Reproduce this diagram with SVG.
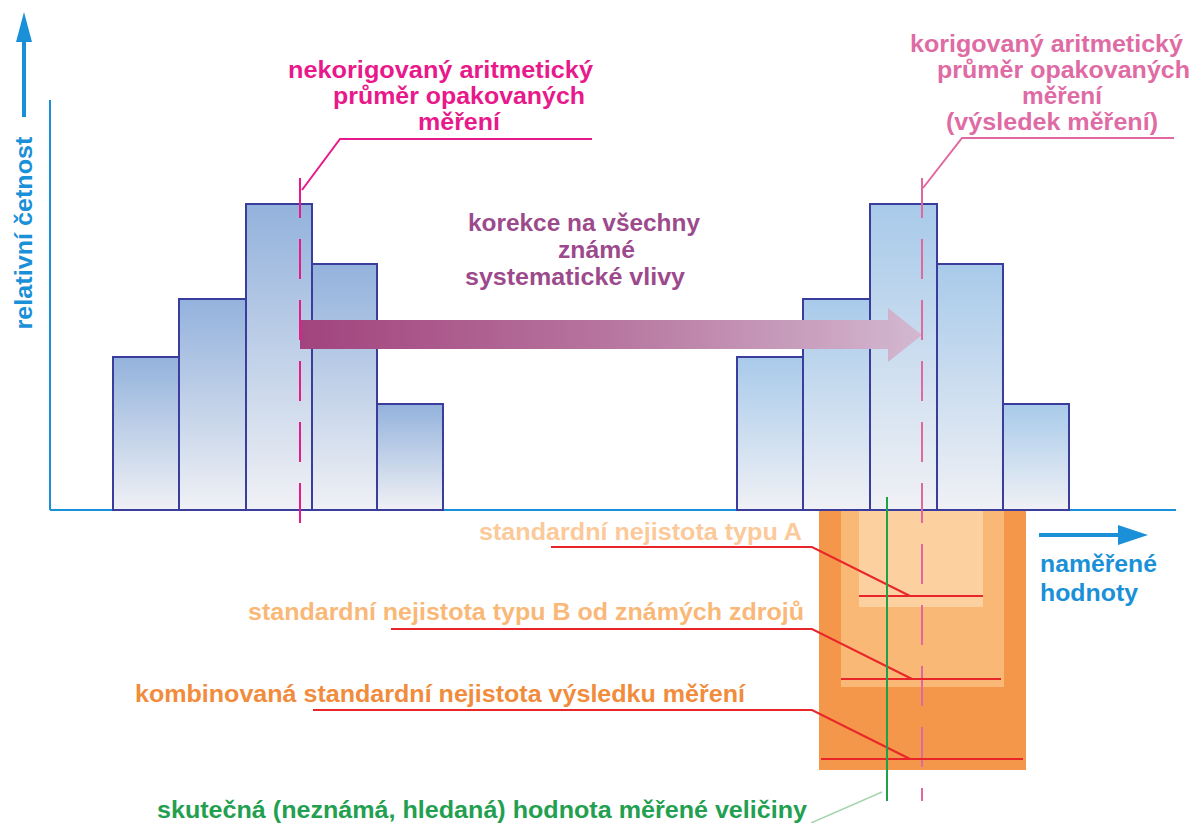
<svg xmlns="http://www.w3.org/2000/svg" width="1194" height="823" viewBox="0 0 1194 823">
<defs>
<linearGradient id="barL" x1="0" y1="0" x2="0" y2="1"><stop offset="0" stop-color="#93b2dc"/><stop offset="1" stop-color="#f0f1f5"/></linearGradient>
<linearGradient id="barR" x1="0" y1="0" x2="0" y2="1"><stop offset="0" stop-color="#a8caea"/><stop offset="1" stop-color="#f0f1f5"/></linearGradient>
<linearGradient id="bigArrow" gradientUnits="userSpaceOnUse" x1="300" y1="0" x2="922" y2="0"><stop offset="0" stop-color="#a2437e"/><stop offset="0.5" stop-color="#b7769f"/><stop offset="1" stop-color="#d3b8d0"/></linearGradient>
<style>
text{font-family:"Liberation Sans",Arial,sans-serif;font-weight:bold;font-size:23px}
.bar{stroke:#3b3d9c;stroke-width:2}
.l{fill:url(#barL)}
.r{fill:url(#barR)}
.red{fill:none;stroke:#e8262a;stroke-width:2}
.blue{fill:#1a90d8}
</style>
</defs>

<g id="axes">
<line x1="50" y1="100" x2="50" y2="510" stroke="#1a90d8" stroke-width="2"/>
<line x1="50" y1="510" x2="1176" y2="510" stroke="#1a90d8" stroke-width="2"/>
<rect x="22" y="38" width="4" height="79" class="blue"/>
<polygon points="24,12 16,42 32,42" class="blue"/>
<text class="blue" transform="translate(32,233) rotate(-90)" text-anchor="middle" textLength="193" lengthAdjust="spacingAndGlyphs">relativní četnost</text>
<rect x="1039" y="533" width="82" height="4" class="blue"/>
<polygon points="1148,535 1118,525 1118,545" class="blue"/>
<text class="blue" x="1040" y="572" textLength="117" lengthAdjust="spacingAndGlyphs">naměřené</text>
<text class="blue" x="1040" y="601" textLength="98" lengthAdjust="spacingAndGlyphs">hodnoty</text>
</g>

<g id="uncertainty-boxes">
<rect x="819" y="511" width="207" height="259" fill="#f4974a"/>
<rect x="841" y="511" width="163" height="176" fill="#f9b875"/>
<rect x="859" y="511" width="124" height="96" fill="#fcd09f"/>
</g>

<g id="histogram-uncorrected">
<rect class="bar l" x="113" y="357" width="66" height="153"/>
<rect class="bar l" x="179" y="299" width="67" height="211"/>
<rect class="bar l" x="246" y="204" width="66" height="306"/>
<rect class="bar l" x="312" y="264" width="65" height="246"/>
<rect class="bar l" x="377" y="404" width="66" height="106"/>
</g>

<g id="histogram-corrected">
<rect class="bar r" x="737" y="357" width="66" height="153"/>
<rect class="bar r" x="803" y="299" width="67" height="211"/>
<rect class="bar r" x="870" y="204" width="67" height="306"/>
<rect class="bar r" x="937" y="264" width="66" height="246"/>
<rect class="bar r" x="1003" y="404" width="66" height="106"/>
</g>

<g id="correction-arrow">
<polygon points="300,320 888,320 888,308 922,335 888,362 888,349 300,349" fill="url(#bigArrow)"/>
<text x="468" y="231" fill="#9c4a8c" textLength="232" lengthAdjust="spacingAndGlyphs">korekce na všechny</text>
<text x="558" y="258" fill="#9c4a8c" textLength="77" lengthAdjust="spacingAndGlyphs">známé</text>
<text x="465" y="285" fill="#9c4a8c" textLength="220" lengthAdjust="spacingAndGlyphs">systematické vlivy</text>
</g>

<g id="connectors">
<line x1="300" y1="178" x2="300" y2="523" stroke="#e8198b" stroke-width="2" stroke-dasharray="40 21"/>
<polyline points="592,139 340,139 302,190" fill="none" stroke="#e8198b" stroke-width="2"/>
<line x1="922" y1="178" x2="922" y2="801" stroke="#e0689f" stroke-width="2" stroke-dasharray="40 21"/>
<polyline points="1174,138 962,138 923,188" fill="none" stroke="#e0689f" stroke-width="2"/>
<line x1="859" y1="596" x2="983" y2="596" class="red"/>
<polyline points="551,547 812,547 910,596" class="red"/>
<line x1="841" y1="679" x2="1001" y2="679" class="red"/>
<polyline points="391,629 812,629 912,679" class="red"/>
<line x1="821" y1="759" x2="1023" y2="759" class="red" stroke-width="2.5"/>
<polyline points="313,710 812,710 910,759" class="red"/>
<line x1="887" y1="497" x2="887" y2="801" stroke="#1fa04a" stroke-width="2"/>
<line x1="882" y1="792" x2="811" y2="823" stroke="#a8d4b0" stroke-width="1.5"/>
</g>

<g id="label-uncorrected">
<text x="288" y="78" fill="#e8198b" textLength="305" lengthAdjust="spacingAndGlyphs">nekorigovaný aritmetický</text>
<text x="333" y="104" fill="#e8198b" textLength="252" lengthAdjust="spacingAndGlyphs">průměr opakovaných</text>
<text x="418" y="130" fill="#e8198b" textLength="82" lengthAdjust="spacingAndGlyphs">měření</text>
</g>

<g id="label-corrected">
<text x="910" y="52" fill="#df6ba5" textLength="273" lengthAdjust="spacingAndGlyphs">korigovaný aritmetický</text>
<text x="937" y="78" fill="#df6ba5" textLength="253" lengthAdjust="spacingAndGlyphs">průměr opakovaných</text>
<text x="1022" y="104" fill="#df6ba5" textLength="80" lengthAdjust="spacingAndGlyphs">měření</text>
<text x="946" y="130" fill="#df6ba5" textLength="212" lengthAdjust="spacingAndGlyphs">(výsledek měření)</text>
</g>

<g id="label-type-a">
<text x="479" y="540" fill="#fcc99a" textLength="323" lengthAdjust="spacingAndGlyphs">standardní nejistota typu A</text>
</g>
<g id="label-type-b">
<text x="248" y="620" fill="#f9b877" textLength="556" lengthAdjust="spacingAndGlyphs">standardní nejistota typu B od známých zdrojů</text>
</g>
<g id="label-combined">
<text x="135" y="702" fill="#f18c3c" textLength="610" lengthAdjust="spacingAndGlyphs">kombinovaná standardní nejistota výsledku měření</text>
</g>
<g id="label-true-value">
<text x="157" y="818" fill="#22a050" textLength="650" lengthAdjust="spacingAndGlyphs">skutečná (neznámá, hledaná) hodnota měřené veličiny</text>
</g>
</svg>
